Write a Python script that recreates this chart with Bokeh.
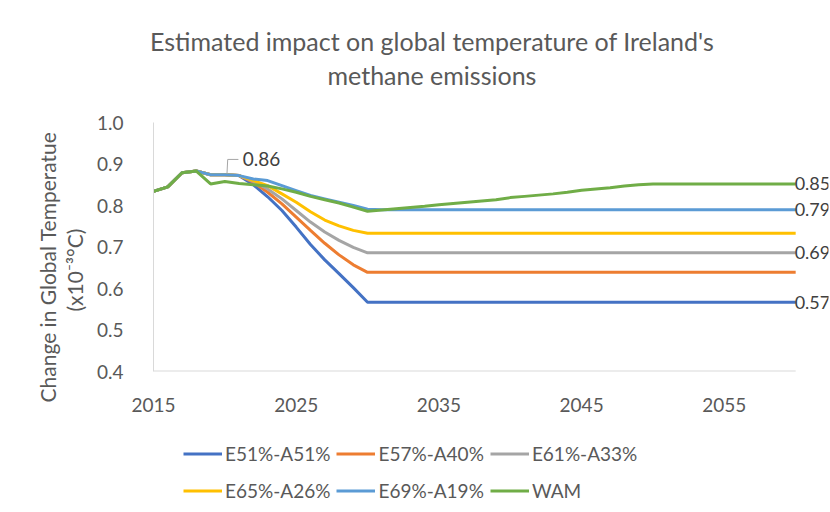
from bokeh.plotting import figure
from bokeh.layouts import column
from bokeh.models import Label, Legend, LegendItem, FixedTicker, NumeralTickFormatter, Range1d, Title
from bokeh.embed import file_html
from bokeh.resources import INLINE

years = list(range(2015, 2061))

e51 = [0.834, 0.845, 0.879, 0.883, 0.874, 0.874, 0.872,
       0.850, 0.821, 0.788, 0.748, 0.706, 0.669, 0.636, 0.602, 0.567,
       0.567, 0.567, 0.567, 0.567, 0.567, 0.567, 0.567, 0.567, 0.567, 0.567,
       0.567, 0.567, 0.567, 0.567, 0.567, 0.567, 0.567, 0.567, 0.567, 0.567,
       0.567, 0.567, 0.567, 0.567, 0.567, 0.567, 0.567, 0.567, 0.567, 0.567]
e57 = [0.834, 0.845, 0.879, 0.883, 0.874, 0.874, 0.872,
       0.856, 0.832, 0.804, 0.772, 0.740, 0.709, 0.681, 0.657, 0.639,
       0.639, 0.639, 0.639, 0.639, 0.639, 0.639, 0.639, 0.639, 0.639, 0.639,
       0.639, 0.639, 0.639, 0.639, 0.639, 0.639, 0.639, 0.639, 0.639, 0.639,
       0.639, 0.639, 0.639, 0.639, 0.639, 0.639, 0.639, 0.639, 0.639, 0.639]
e61 = [0.834, 0.845, 0.879, 0.883, 0.874, 0.874, 0.872,
       0.858, 0.840, 0.816, 0.788, 0.760, 0.736, 0.716, 0.699, 0.686,
       0.686, 0.686, 0.686, 0.686, 0.686, 0.686, 0.686, 0.686, 0.686, 0.686,
       0.686, 0.686, 0.686, 0.686, 0.686, 0.686, 0.686, 0.686, 0.686, 0.686,
       0.686, 0.686, 0.686, 0.686, 0.686, 0.686, 0.686, 0.686, 0.686, 0.686]
e65 = [0.834, 0.845, 0.879, 0.883, 0.874, 0.874, 0.872,
       0.860, 0.848, 0.828, 0.808, 0.785, 0.765, 0.751, 0.740, 0.733,
       0.733, 0.733, 0.733, 0.733, 0.733, 0.733, 0.733, 0.733, 0.733, 0.733,
       0.733, 0.733, 0.733, 0.733, 0.733, 0.733, 0.733, 0.733, 0.733, 0.733,
       0.733, 0.733, 0.733, 0.733, 0.733, 0.733, 0.733, 0.733, 0.733, 0.733]
e69 = [0.834, 0.845, 0.879, 0.883, 0.874, 0.874, 0.872,
       0.864, 0.860, 0.848, 0.836, 0.824, 0.816, 0.808, 0.800, 0.791,
       0.790, 0.790, 0.790, 0.790, 0.790, 0.790, 0.790, 0.790, 0.790, 0.790,
       0.790, 0.790, 0.790, 0.790, 0.790, 0.790, 0.790, 0.790, 0.790, 0.790,
       0.790, 0.790, 0.790, 0.790, 0.790, 0.790, 0.790, 0.790, 0.790, 0.790]
wam = [0.834, 0.845, 0.879, 0.883, 0.852, 0.858, 0.853,
       0.850, 0.847, 0.840, 0.832, 0.822, 0.814, 0.806, 0.796, 0.786,
       0.789, 0.792, 0.795, 0.798, 0.802, 0.805, 0.808, 0.811, 0.814, 0.819,
       0.822, 0.825, 0.828, 0.832, 0.837, 0.840, 0.843, 0.847, 0.850, 0.852,
       0.852, 0.852, 0.852, 0.852, 0.852, 0.852, 0.852, 0.852, 0.852, 0.852]

names = ["E51%-A51%", "E57%-A40%", "E61%-A33%", "E65%-A26%", "E69%-A19%", "WAM"]
series = [e51, e57, e61, e65, e69, wam]
colors = ["#4472C4", "#ED7D31", "#A5A5A5", "#FFC000", "#5B9BD5", "#70AD47"]
end_labelled = ["WAM", "E69%-A19%", "E61%-A33%", "E51%-A51%"]
x_ticks = [2015, 2025, 2035, 2045, 2055]
y_ticks = [0.4, 0.5, 0.6, 0.7, 0.8, 0.9, 1.0]
title_lines = ["Estimated impact on global temperature of Ireland's", "methane emissions"]
y_title_lines = ["Change in Global Temperatue", "(x10\u207b\u00b3\u00b0C)"]

FONT = "Lato"
TXT = "#595959"

p = figure(width=830, height=425, output_backend="svg", toolbar_location=None,
           x_range=Range1d(2015, 2062.3), y_range=Range1d(0.4, 1.0),
           min_border_left=153, min_border_right=2, min_border_top=122, min_border_bottom=54)
p.outline_line_color = None
p.xgrid.visible = False
p.ygrid.visible = False
p.title.visible = False

for ax in (p.xaxis[0], p.yaxis[0]):
    ax.axis_line_color = "#d9d9d9"
    ax.axis_line_width = 1
    ax.major_tick_line_color = None
    ax.minor_tick_line_color = None
    ax.major_label_text_font = FONT
    ax.major_label_text_font_size = "19px"
    ax.major_label_text_color = TXT

p.xaxis.axis_line_color = None
p.xaxis.ticker = FixedTicker(ticks=x_ticks)
p.yaxis.ticker = FixedTicker(ticks=y_ticks)
p.yaxis.formatter = NumeralTickFormatter(format="0.0")
p.yaxis.major_label_standoff = 24
p.xaxis.major_label_standoff = 20

# x axis baseline spanning the data years
p.line([years[0], years[-1]], [y_ticks[0], y_ticks[0]], line_color="#d9d9d9", line_width=2)

for name, ys, c in zip(names, series, colors):
    p.line(years, ys, line_color=c, line_width=3)

# end-of-line data labels
for name, ys in zip(names, series):
    if name in end_labelled:
        p.add_layout(Label(x=years[-1], y=ys[-1], text=f"{ys[-1]:.2f}", x_offset=-1,
                           text_baseline="middle", text_align="left", text_font=FONT,
                           text_font_size="18px", text_color="#404040"))

# callout data label for WAM in 2020
i20 = years.index(2020)
ax_, ay_ = years[i20], wam[i20]
p.line([ax_ + 0.15, ax_ + 0.2, ax_ + 0.95], [ay_ + 0.019, ay_ + 0.053, ay_ + 0.053],
       line_color="#a6a6a6", line_width=1)
p.add_layout(Label(x=ax_ + 1.25, y=ay_ + 0.053, text=f"{ay_:.2f}", text_baseline="middle",
                   text_align="left", text_font=FONT, text_font_size="19px",
                   text_color="#404040"))

# chart title: spacer nearest the frame, then line 2, then line 1
p.add_layout(Title(text=" ", text_font_size="1px", standoff=30), "above")
p.add_layout(Title(text=title_lines[1], align="left", offset=174, standoff=0,
                   text_font=FONT, text_font_size="25px", text_font_style="normal",
                   text_color=TXT), "above")
p.add_layout(Title(text=title_lines[0], align="left", offset=-3.5, standoff=4,
                   text_font=FONT, text_font_size="25px", text_font_style="normal",
                   text_color=TXT), "above")

# y axis title: spacer next to the axis, then line 2, then line 1
p.add_layout(Title(text=" ", text_font_size="1px", standoff=4), "left")
p.add_layout(Title(text=y_title_lines[1], align="left", offset=60, standoff=0,
                   text_font=FONT, text_font_size="21px", text_font_style="normal",
                   text_color=TXT), "left")
p.add_layout(Title(text=y_title_lines[0], align="left", offset=-31, standoff=0,
                   text_font=FONT, text_font_size="21px", text_font_style="normal",
                   text_color=TXT), "left")

# legend in its own strip below the chart (series drawn off-range, only the legend shows)
p2 = figure(width=830, height=87, output_backend="svg", toolbar_location=None,
            x_axis_type=None, y_axis_type=None,
            x_range=Range1d(0, 1), y_range=Range1d(0, 1),
            min_border_left=0, min_border_right=0, min_border_top=0, min_border_bottom=0)
p2.outline_line_color = None
p2.xgrid.visible = False
p2.ygrid.visible = False
items = []
for name, ys, c in zip(names, series, colors):
    r = p2.line(years, ys, line_color=c, line_width=3)
    items.append(LegendItem(label=name, renderers=[r]))
legend = Legend(items=items, ncols=3, location=(30, 6.5), orientation="horizontal",
                glyph_width=39, glyph_height=31, label_height=31, label_standoff=3,
                spacing=6, padding=0, margin=0, border_line_color=None,
                background_fill_alpha=0, label_text_font=FONT,
                label_text_font_size="19px", label_text_color=TXT)
p2.add_layout(legend, "center")

layout = column(p, p2, spacing=0)
open("out.html", "w").write(file_html(layout, INLINE))
